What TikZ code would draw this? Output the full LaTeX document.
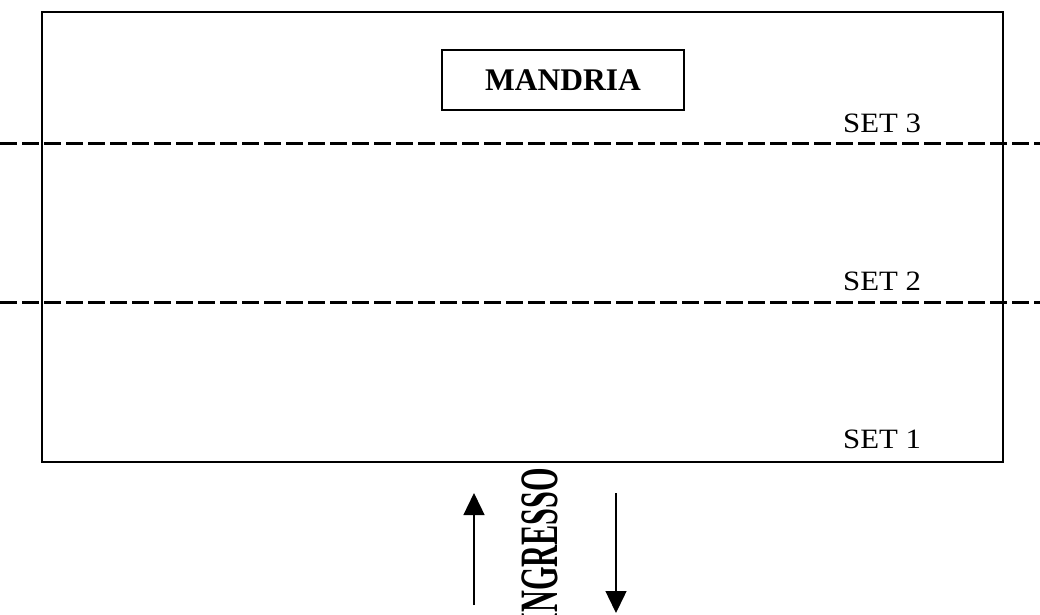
\documentclass[tikz,border=0pt]{standalone}
\usepackage{fontspec}
\setmainfont{Liberation Serif}
\usetikzlibrary{arrows.meta}
\begin{document}
\begin{tikzpicture}[x=1pt,y=-1pt,
  frame/.style={draw=black,line width=1.4pt},
  divider/.style={draw=black,line width=3pt,dash pattern=on 16.5pt off 5.5pt},
  setlabel/.style={anchor=base west,inner sep=0pt,font=\fontsize{28}{28}\selectfont},
  flow/.style={draw=black,line width=1.4pt,-{Triangle[length=22pt,width=21pt]}}]
\useasboundingbox (0,0) rectangle (1040,614);
% enclosure
\node[frame,minimum width=961pt,minimum height=450pt,inner sep=0pt] (outer) at (522.5,237) {};
% herd box
\node[frame,minimum width=242pt,minimum height=60pt,inner sep=0pt,
      font=\fontsize{31.5}{31.5}\selectfont\bfseries] (mandria) at (563,80) {MANDRIA};
% boundaries between sets
\coordinate (d3a) at (0,143); \coordinate (d3b) at (1040,143);
\coordinate (d2a) at (0,302); \coordinate (d2b) at (1040,302);
\draw[divider] (d3a) -- (d3b);
\draw[divider] (d2a) -- (d2b);
% set labels
\node[setlabel] (set3) at (843,132) {\scalebox{1.1}[1]{SET 3}};
\node[setlabel] (set2) at (843,290) {\scalebox{1.1}[1]{SET 2}};
\node[setlabel] (set1) at (843,448) {\scalebox{1.1}[1]{SET 1}};
% entrance
\node[rotate=90,inner sep=0pt] (ingresso) at (540,546)
  {\scalebox{0.56}[1]{\fontsize{54}{54}\selectfont\bfseries INGRESSO}};
\coordinate (inA) at (474,605); \coordinate (inB) at (474,493);
\coordinate (outA) at (616,493); \coordinate (outB) at (616,613);
\draw[flow] (inA) -- (inB);
\draw[flow] (outA) -- (outB);
\end{tikzpicture}
\end{document}
